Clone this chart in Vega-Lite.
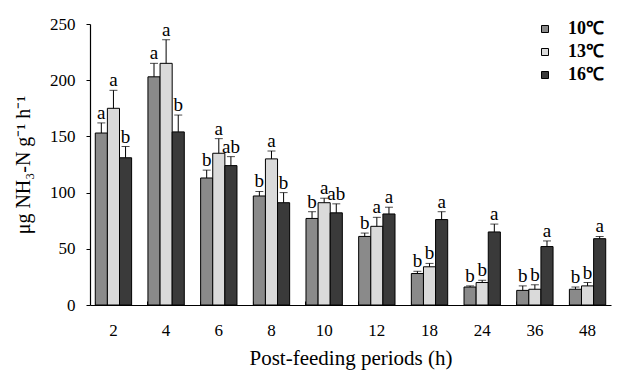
{
  "$schema": "https://vega.github.io/schema/vega-lite/v6.json",
  "width": 521,
  "height": 281,
  "autosize": {"type": "none"},
  "padding": {"left": 90, "top": 24, "right": 16, "bottom": 67},
  "background": "white",
  "config": {
    "view": {"stroke": null},
    "font": "Liberation Serif",
    "axis": {"labelFont": "Liberation Serif", "titleFont": "Liberation Serif", "labelColor": "black", "titleColor": "black", "domainColor": "black", "tickColor": "black", "titleFontWeight": "normal", "grid": false}
  },
  "data": {
    "values": [
      {"t": "2", "temp": "10℃", "v": 153, "e": 162, "sig": "a"},
      {"t": "2", "temp": "13℃", "v": 175, "e": 191, "sig": "a"},
      {"t": "2", "temp": "16℃", "v": 131, "e": 141, "sig": "b"},
      {"t": "4", "temp": "10℃", "v": 203, "e": 215, "sig": "a"},
      {"t": "4", "temp": "13℃", "v": 215, "e": 236, "sig": "a"},
      {"t": "4", "temp": "16℃", "v": 154, "e": 169, "sig": "b"},
      {"t": "6", "temp": "10℃", "v": 113, "e": 120, "sig": "b"},
      {"t": "6", "temp": "13℃", "v": 135, "e": 148, "sig": "a"},
      {"t": "6", "temp": "16℃", "v": 124, "e": 132, "sig": "ab"},
      {"t": "8", "temp": "10℃", "v": 97, "e": 101, "sig": "b"},
      {"t": "8", "temp": "13℃", "v": 130, "e": 137, "sig": "a"},
      {"t": "8", "temp": "16℃", "v": 91, "e": 100, "sig": "b"},
      {"t": "10", "temp": "10℃", "v": 77, "e": 83, "sig": "b"},
      {"t": "10", "temp": "13℃", "v": 91, "e": 95, "sig": "a"},
      {"t": "10", "temp": "16℃", "v": 82, "e": 90, "sig": "ab"},
      {"t": "12", "temp": "10℃", "v": 61, "e": 64, "sig": "b"},
      {"t": "12", "temp": "13℃", "v": 70, "e": 78, "sig": "a"},
      {"t": "12", "temp": "16℃", "v": 81, "e": 87, "sig": "a"},
      {"t": "18", "temp": "10℃", "v": 28, "e": 30, "sig": "b"},
      {"t": "18", "temp": "13℃", "v": 34, "e": 37, "sig": "b"},
      {"t": "18", "temp": "16℃", "v": 76, "e": 83, "sig": "a"},
      {"t": "24", "temp": "10℃", "v": 16, "e": 17, "sig": "b"},
      {"t": "24", "temp": "13℃", "v": 20, "e": 22, "sig": "b"},
      {"t": "24", "temp": "16℃", "v": 65, "e": 72, "sig": "a"},
      {"t": "36", "temp": "10℃", "v": 13, "e": 17, "sig": "b"},
      {"t": "36", "temp": "13℃", "v": 14, "e": 18, "sig": "b"},
      {"t": "36", "temp": "16℃", "v": 52, "e": 57, "sig": "a"},
      {"t": "48", "temp": "10℃", "v": 14, "e": 16, "sig": "b"},
      {"t": "48", "temp": "13℃", "v": 17, "e": 20, "sig": "b"},
      {"t": "48", "temp": "16℃", "v": 59, "e": 61, "sig": "a"}
    ]
  },
  "encoding": {
    "x": {
      "field": "t", "type": "ordinal",
      "sort": ["2", "4", "6", "8", "10", "12", "18", "24", "36", "48"],
      "scale": {"paddingInner": 0.31, "paddingOuter": 0.1},
      "axis": {"title": "Post-feeding periods (h)", "titleFontSize": 21, "labelFontSize": 17, "labelAngle": 0, "bandPosition": 0, "tickSize": -4, "labelPadding": 21, "titlePadding": 9, "domainWidth": 1.2}
    },
    "xOffset": {"field": "temp", "type": "nominal", "scale": {"paddingInner": 0, "paddingOuter": 0}}
  },
  "layer": [
    {
      "mark": {"type": "bar", "stroke": "black", "strokeWidth": 1},
      "encoding": {
        "y": {
          "field": "v", "type": "quantitative",
          "scale": {"domain": [0, 250], "nice": false},
          "axis": {"title": "μg NH₃-N g⁻¹ h⁻¹", "titleFontSize": 20, "labelFontSize": 17, "values": [0, 50, 100, 150, 200, 250], "tickSize": 4, "labelPadding": 11, "titlePadding": 16, "domainWidth": 1.2}
        },
        "fill": {
          "field": "temp", "type": "nominal",
          "scale": {"domain": ["10℃", "13℃", "16℃"], "range": ["#8a8a8a", "#dadada", "#3a3a3a"]},
          "legend": {
            "title": null, "orient": "none", "legendX": 446, "legendY": -4, "padding": 0,
            "symbolType": "square", "symbolSize": 49, "symbolStrokeColor": "black", "symbolStrokeWidth": 1,
            "labelFont": "Liberation Serif", "labelFontSize": 18, "labelFontWeight": "bold", "labelColor": "black",
            "rowPadding": 5, "labelOffset": 14
          }
        }
      }
    },
    {
      "mark": {"type": "rule", "color": "black", "strokeWidth": 1},
      "encoding": {"y": {"field": "v", "type": "quantitative"}, "y2": {"field": "e"}}
    },
    {
      "mark": {"type": "tick", "color": "black", "thickness": 1, "size": 8},
      "encoding": {"y": {"field": "e", "type": "quantitative"}}
    },
    {
      "mark": {"type": "text", "fontSize": 19, "font": "Liberation Serif", "color": "black", "baseline": "alphabetic", "dy": -4},
      "encoding": {"y": {"field": "e", "type": "quantitative"}, "text": {"field": "sig"}}
    }
  ]
}
